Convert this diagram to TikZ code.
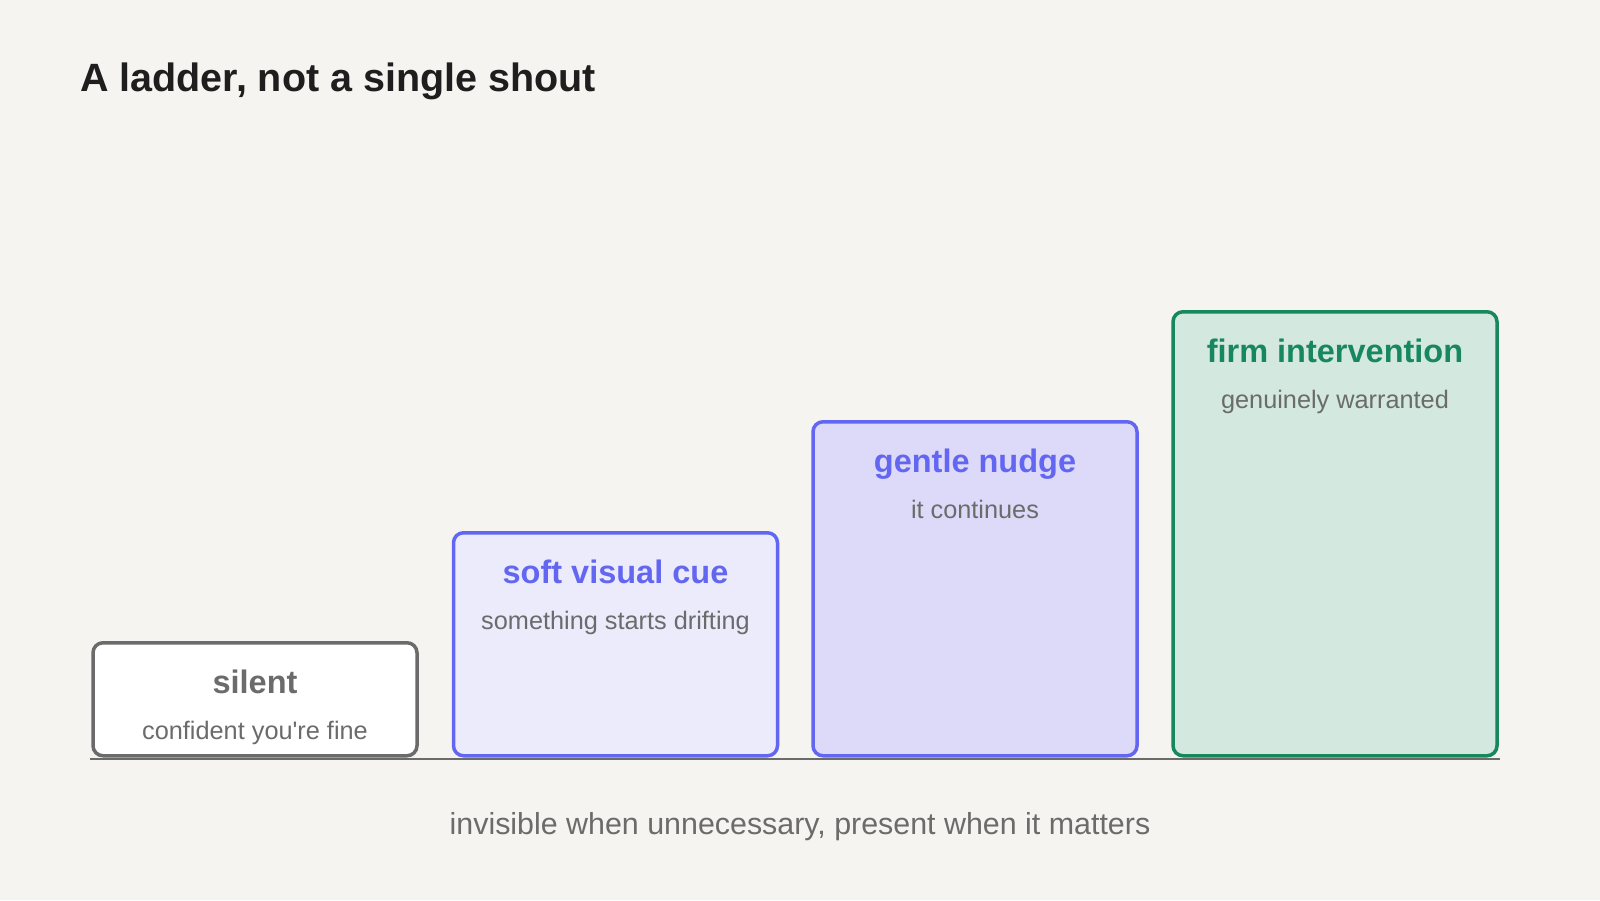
\documentclass[tikz,border=0pt]{standalone}
\usepackage{fontspec}
\setmainfont{Liberation Sans}
\definecolor{bg}{HTML}{F5F4F0}
\definecolor{ink}{HTML}{1E1E1E}
\definecolor{muted}{HTML}{6B6B6B}
\definecolor{indigo}{HTML}{6366F1}
\definecolor{softfill}{HTML}{EBEBFC}
\definecolor{nudgefill}{HTML}{DDD9F9}
\definecolor{firm}{HTML}{17885E}
\definecolor{firmfill}{HTML}{D3E8DE}
\tikzset{
  stepbox/.style={draw, rounded corners=10pt, line width=3.5pt, minimum width=324pt, anchor=south, inner sep=0pt},
  steptitle/.style={font=\fontsize{32.5}{36}\selectfont\bfseries, anchor=base, inner sep=0pt},
  stepsub/.style={font=\fontsize{25.3}{29}\selectfont, text=muted, anchor=base, inner sep=0pt},
}
\begin{document}
\begin{tikzpicture}[x=1pt,y=-1pt]
\useasboundingbox[fill=bg] (0,0) rectangle (1600,900);
\node[font=\fontsize{39.5}{45}\selectfont\bfseries, text=ink, anchor=base west, inner sep=0pt] (title) at (80,91) {A ladder, not a single shout};
% boxes
\node[stepbox, draw=muted, fill=white, minimum height=113pt] (b1) at (255,757.5) {};
\node[stepbox, draw=indigo, fill=softfill, minimum height=223pt] (b2) at (615.5,757.5) {};
\node[stepbox, draw=indigo, fill=nudgefill, minimum height=334pt] (b3) at (975,757.5) {};
\node[stepbox, draw=firm, fill=firmfill, minimum height=444pt] (b4) at (1335,757.5) {};
% baseline
\coordinate (l0) at (90,759);
\coordinate (l1) at (1500,759);
\draw[muted, line width=2.5pt] (l0) -- (l1);
% labels
\node[steptitle, text=muted] (t1) at ([yshift=-52pt]b1.north) {silent};
\node[stepsub] (s1) at ([yshift=-98pt]b1.north) {confident you\textquotesingle re fine};
\node[steptitle, text=indigo] (t2) at ([yshift=-52pt]b2.north) {soft visual cue};
\node[stepsub] (s2) at ([yshift=-98pt]b2.north) {something starts drifting};
\node[steptitle, text=indigo] (t3) at ([yshift=-52pt]b3.north) {gentle nudge};
\node[stepsub] (s3) at ([yshift=-98pt]b3.north) {it continues};
\node[steptitle, text=firm] (t4) at ([yshift=-52pt]b4.north) {firm intervention};
\node[stepsub] (s4) at ([yshift=-98pt]b4.north) {genuinely warranted};
\node[font=\fontsize{30.4}{34}\selectfont, text=muted, inner sep=0pt] (foot) at (800,827) {invisible when unnecessary, present when it matters};
\end{tikzpicture}
\end{document}
